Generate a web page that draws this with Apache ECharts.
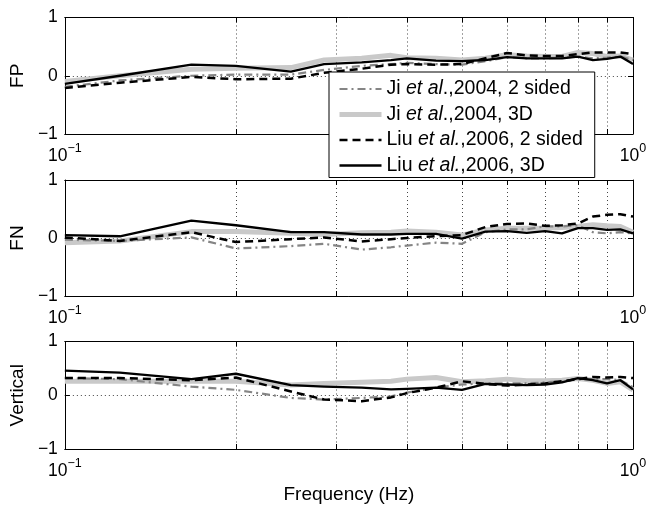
<!DOCTYPE html>
<html>
<head>
<meta charset="utf-8">
<script src="https://cdn.jsdelivr.net/npm/echarts@6/dist/echarts.min.js"></script>
<style>
  html, body { margin: 0; padding: 0; background: #fff; }
  #chart { width: 658px; height: 505px; }
</style>
</head>
<body>
<div id="chart"></div>
<script>
// Frequencies (Hz) at which each curve is sampled
const freq = [0.1, 0.125, 0.167, 0.2, 0.25, 0.286, 0.333, 0.375, 0.4, 0.45, 0.5,
              0.55, 0.6, 0.65, 0.7, 0.75, 0.8, 0.85, 0.9, 0.95, 1.0];

// FP component
const fpJi2  = [-0.19, -0.08, 0.0, 0.02, 0.02, 0.1, 0.17, 0.2, 0.22, 0.2, 0.19, 0.25, 0.32, 0.3, 0.3, 0.31, 0.33, 0.3, 0.31, 0.33, 0.27];
const fpJi3  = [-0.1, 0.0, 0.11, 0.13, 0.14, 0.27, 0.3, 0.35, 0.31, 0.3, 0.27, 0.3, 0.36, 0.34, 0.33, 0.33, 0.4, 0.38, 0.33, 0.34, 0.27];
const fpLiu2 = [-0.21, -0.12, -0.02, -0.06, -0.05, 0.05, 0.12, 0.19, 0.2, 0.19, 0.2, 0.3, 0.39, 0.35, 0.34, 0.34, 0.37, 0.4, 0.4, 0.4, 0.37];
const fpLiu3 = [-0.14, 0.0, 0.19, 0.17, 0.07, 0.2, 0.23, 0.27, 0.3, 0.26, 0.25, 0.27, 0.32, 0.3, 0.3, 0.3, 0.33, 0.27, 0.29, 0.33, 0.2];

// FN component
const fnJi2  = [-0.03, -0.05, 0.01, -0.18, -0.14, -0.1, -0.2, -0.16, -0.13, -0.08, -0.1, 0.1, 0.15, 0.15, 0.2, 0.2, 0.22, 0.1, 0.08, 0.1, 0.08];
const fnJi3  = [-0.08, -0.05, 0.11, 0.11, 0.08, 0.06, 0.09, 0.1, 0.12, 0.1, 0.05, 0.14, 0.17, 0.17, 0.17, 0.18, 0.2, 0.23, 0.21, 0.2, 0.1];
const fnLiu2 = [0.01, -0.05, 0.1, -0.07, -0.02, 0.01, -0.06, -0.02, 0.0, 0.03, 0.05, 0.19, 0.24, 0.25, 0.21, 0.22, 0.25, 0.37, 0.4, 0.41, 0.37];
const fnLiu3 = [0.05, 0.03, 0.3, 0.22, 0.1, 0.1, 0.06, 0.06, 0.07, 0.07, -0.01, 0.11, 0.12, 0.09, 0.12, 0.08, 0.17, 0.17, 0.14, 0.15, 0.08];

// Vertical component
const vJi2  = [0.32, 0.3, 0.16, 0.1, -0.05, -0.08, -0.05, -0.02, 0.05, 0.14, 0.2, 0.22, 0.22, 0.22, 0.24, 0.26, 0.3, 0.3, 0.3, 0.28, 0.15];
const vJi3  = [0.26, 0.26, 0.26, 0.26, 0.19, 0.22, 0.24, 0.26, 0.3, 0.33, 0.25, 0.27, 0.3, 0.27, 0.27, 0.28, 0.31, 0.28, 0.22, 0.25, 0.1];
const vLiu2 = [0.32, 0.32, 0.28, 0.33, 0.07, -0.08, -0.11, -0.04, 0.04, 0.14, 0.26, 0.21, 0.18, 0.2, 0.22, 0.26, 0.3, 0.34, 0.33, 0.34, 0.32];
const vLiu3 = [0.46, 0.42, 0.3, 0.4, 0.19, 0.16, 0.14, 0.11, 0.12, 0.14, 0.1, 0.21, 0.2, 0.19, 0.2, 0.24, 0.32, 0.28, 0.22, 0.28, 0.11];

// Axis text
const panelNames = ['FP', 'FN', 'Vertical'];
const xTickValues = [0.1, 1];
const xGridValues = [0.1, 0.2, 0.3, 0.4, 0.5, 0.6, 0.7, 0.8, 0.9, 1];
const seriesNames = ['Ji et al.,2004, 2 sided', 'Ji et al.,2004, 3D',
                     'Liu et al.,2006, 2 sided', 'Liu et al.,2006, 3D'];
const xAxisTitle = 'Frequency (Hz)';

const panelData = [
  [fpJi2, fpJi3, fpLiu2, fpLiu3],
  [fnJi2, fnJi3, fnLiu2, fnLiu3],
  [vJi2, vJi3, vLiu2, vLiu3]
];

const FONT = '"Liberation Sans", Arial, Helvetica, sans-serif';

const styles = [
  { color: '#858585', width: 2.2, type: [8, 4, 2, 4], z: 3 },
  { color: '#c9c9c9', width: 5, type: 'solid', z: 2 },
  { color: '#000000', width: 2.5, type: [8, 5], z: 4 },
  { color: '#000000', width: 2.3, type: 'solid', z: 5 }
];

const grids = [
  { left: 63, top: 17.5, width: 570, height: 116.5 },
  { left: 63, top: 180, width: 570, height: 116 },
  { left: 63, top: 341.5, width: 570, height: 115.5 }
];

const dotted = { color: '#444', width: 1, type: [1, 3] };
const blackLine = { color: '#000', width: 1 };

const xAxes = [], yAxes = [], series = [];
grids.forEach((g, i) => {
  xAxes.push({
    type: 'log', logBase: 10, min: 0.1, max: 1, gridIndex: i, position: 'bottom',
    axisLine: { show: true, onZero: false, lineStyle: blackLine },
    axisTick: { show: true, inside: true, length: 5, customValues: xGridValues, lineStyle: blackLine },
    axisLabel: {
      customValues: xTickValues, margin: 8, color: '#000', fontFamily: FONT,
      formatter: v => '{b|10}{s|' + (v < 0.5 ? '\u22121' : '0') + '}',
      rich: {
        b: { fontSize: 17.5, fontFamily: FONT, color: '#000', lineHeight: 23, verticalAlign: 'bottom' },
        s: { fontSize: 12.5, fontFamily: FONT, color: '#000', lineHeight: 23, verticalAlign: 'top' }
      }
    },
    splitLine: { show: true, lineStyle: dotted },
    name: i === 2 ? xAxisTitle : '',
    nameLocation: 'middle', nameGap: 36,
    nameTextStyle: { fontSize: 19, fontFamily: FONT, color: '#000' }
  });
  xAxes.push({
    type: 'log', logBase: 10, min: 0.1, max: 1, gridIndex: i, position: 'top',
    axisLine: { show: true, onZero: false, lineStyle: blackLine },
    axisTick: { show: true, inside: true, length: 5, customValues: xGridValues, lineStyle: blackLine },
    axisLabel: { show: false },
    splitLine: { show: false }
  });
  yAxes.push({
    type: 'value', min: -1, max: 1, interval: 1, gridIndex: i, position: 'left',
    axisLine: { show: true, onZero: false, lineStyle: blackLine },
    axisTick: { show: true, inside: true, length: 5, lineStyle: blackLine },
    axisLabel: {
      margin: 7, fontSize: 17.5, fontFamily: FONT, color: '#000',
      formatter: v => (v < 0 ? '\u2212' + Math.abs(v) : String(v))
    },
    splitLine: { show: true, lineStyle: dotted },
    name: panelNames[i], nameLocation: 'middle', nameGap: 33,
    nameTextStyle: { fontSize: 19, fontFamily: FONT, color: '#000' }
  });
  yAxes.push({
    type: 'value', min: -1, max: 1, interval: 1, gridIndex: i, position: 'right',
    axisLine: { show: true, onZero: false, lineStyle: blackLine },
    axisTick: { show: true, inside: true, length: 5, lineStyle: blackLine },
    axisLabel: { show: false },
    splitLine: { show: false }
  });
  // thick light curve first so the others sit on top of it
  [1, 0, 2, 3].forEach(k => {
    const st = styles[k];
    series.push({
      type: 'line', name: seriesNames[k],
      xAxisIndex: 2 * i, yAxisIndex: 2 * i,
      data: freq.map((f, j) => [f, panelData[i][k][j]]),
      showSymbol: false, symbol: 'none', silent: true, animation: false,
      z: st.z,
      lineStyle: { color: st.color, width: st.width, type: st.type, cap: 'butt', join: 'round' },
      itemStyle: { color: st.color, opacity: 0 }
    });
  });
});

// italic "et al" in legend entries
function legendLabel(name) {
  if (name.startsWith('Liu')) return name.replace('et al.', '{i|et al.}');
  return name.replace('et al', '{i|et al}');
}

const legendItems = seriesNames.map((name, k) => ({
  name: name,
  lineStyle: { color: styles[k].color, width: styles[k].width, type: styles[k].type, cap: 'butt' }
}));

const chart = echarts.init(document.getElementById('chart'), null, { renderer: 'canvas' });
chart.setOption({
  backgroundColor: '#fff',
  animation: false,
  grid: grids,
  xAxis: xAxes,
  yAxis: yAxes,
  legend: {
    data: legendItems,
    orient: 'vertical', left: 329, top: 72,
    itemWidth: 42, itemHeight: 14, itemGap: 5.5,
    padding: [7, 12, 2, 8],
    backgroundColor: '#fff', borderColor: '#000', borderWidth: 1,
    z: 10, selectedMode: false,
    itemStyle: { opacity: 0 },
    formatter: legendLabel,
    textStyle: {
      fontSize: 19.5, fontFamily: FONT, color: '#000', lineHeight: 20,
      rich: { i: { fontSize: 19.5, fontFamily: FONT, fontStyle: 'italic', color: '#000', lineHeight: 20 } }
    }
  },
  series: series
});
</script>
</body>
</html>
